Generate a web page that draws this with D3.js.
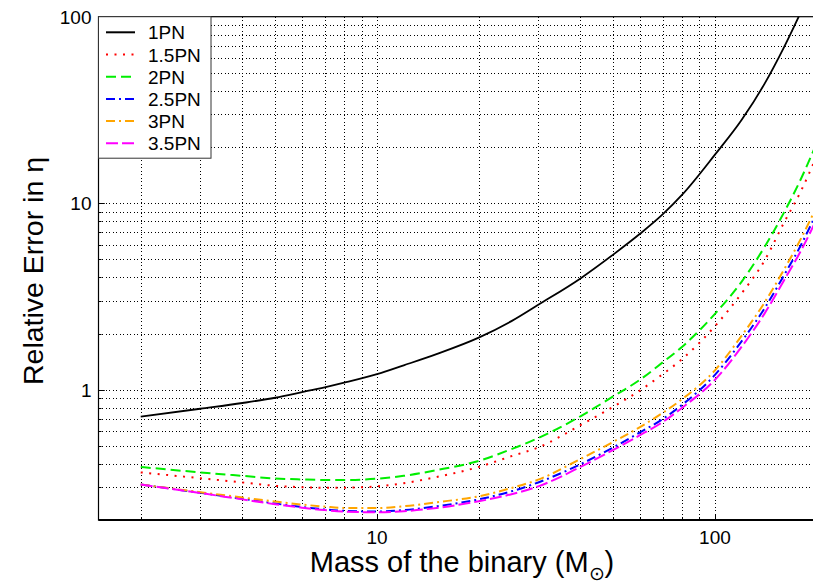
<!DOCTYPE html>
<html>
<head>
<meta charset="utf-8">
<script src="https://cdn.jsdelivr.net/npm/d3@7"></script>
<style>
  html, body { margin: 0; padding: 0; background: #fff; }
  svg { display: block; font-family: "Liberation Sans", Arial, Helvetica, sans-serif; }
</style>
</head>
<body>
<svg id="chart" width="813" height="583"></svg>
<script>
// Data
const masses = [2, 3, 4, 5, 6, 7, 8, 10, 12, 15, 20, 25, 30, 40, 50, 60, 70, 80, 100, 120, 140, 160, 180, 200];
const pn1   = [0.717, 0.79, 0.848, 0.905, 0.97, 1.03, 1.09, 1.21, 1.35, 1.55, 1.9, 2.33, 2.85, 3.95, 5.3, 6.85, 8.7, 11.1, 18.2, 28, 43.5, 68.5, 107, 164];
const pn15  = [0.36, 0.335, 0.318, 0.305, 0.3, 0.298, 0.298, 0.303, 0.315, 0.34, 0.385, 0.44, 0.49, 0.645, 0.81, 0.99, 1.21, 1.46, 2.19, 3.29, 4.9, 7.85, 11.7, 17.9];
const pn2   = [0.385, 0.36, 0.345, 0.334, 0.33, 0.328, 0.328, 0.333, 0.345, 0.37, 0.415, 0.48, 0.55, 0.72, 0.92, 1.13, 1.4, 1.7, 2.55, 3.8, 5.8, 8.9, 13.6, 21];
const pn25  = [0.31, 0.28, 0.26, 0.245, 0.235, 0.228, 0.224, 0.222, 0.226, 0.237, 0.258, 0.285, 0.318, 0.398, 0.49, 0.59, 0.695, 0.83, 1.2, 1.82, 2.72, 4.1, 6.0, 8.9];
const pn3   = [0.31, 0.282, 0.264, 0.251, 0.242, 0.236, 0.232, 0.232, 0.237, 0.249, 0.268, 0.297, 0.329, 0.425, 0.525, 0.63, 0.75, 0.89, 1.27, 1.95, 2.92, 4.4, 6.5, 9.6];
const pn35  = [0.31, 0.279, 0.258, 0.243, 0.233, 0.226, 0.222, 0.22, 0.223, 0.232, 0.252, 0.275, 0.303, 0.385, 0.475, 0.57, 0.67, 0.8, 1.13, 1.7, 2.55, 3.85, 5.6, 8.2];

const seriesNames = ['1PN', '1.5PN', '2PN', '2.5PN', '3PN', '3.5PN'];
const seriesValues = [pn1, pn15, pn2, pn25, pn3, pn35];

// Styles
const colors = ['#000000', '#ff0000', '#00ee00', '#0000ff', '#ffa500', '#ff00ff'];
const dashes = [null, '2,6.5', '10,5', '9,4,2,4', '9,4,2,4', '12,4'];
const yTickValues = [1, 10, 100];
const xTickValues = [10, 100];

// Layout
const plotL = 98.5, plotR = 816.7, plotT = 16.7, plotB = 520;

const x = d3.scaleLog().domain([1.5, 200]).range([plotL, plotR]);
const y = d3.scaleLog().domain([0.2, 100]).range([plotB, plotT]);

const svg = d3.select('#chart');

svg.append('defs').append('clipPath').attr('id', 'plotClip')
  .append('rect')
  .attr('x', plotL).attr('y', plotT)
  .attr('width', plotR - plotL).attr('height', plotB - plotT);

// minor grid values
const xGrid = [];
[1, 10, 100].forEach(d => { for (let k = 1; k < 10; k++) { const v = d * k; if (v > 1.5 && v < 200) xGrid.push(v); } });
const yGrid = [];
[0.1, 1, 10].forEach(d => { for (let k = 1; k < 10; k++) { const v = +(d * k).toFixed(3); if (v > 0.2 && v < 100) yGrid.push(v); } });

const px = v => Math.round(v) + 0.5;

const grid = svg.append('g').attr('shape-rendering', 'crispEdges');
grid.selectAll('line.gx')
  .data(xGrid)
  .enter()
  .append('line')
  .attr('x1', d => px(x(d))).attr('x2', d => px(x(d)))
  .attr('y1', plotT).attr('y2', plotB)
  .attr('stroke', '#000')
  .attr('stroke-width', 1)
  .attr('stroke-dasharray', '1,2.5');
grid.selectAll('line.gy')
  .data(yGrid)
  .enter()
  .append('line')
  .attr('y1', d => px(y(d))).attr('y2', d => px(y(d)))
  .attr('x1', plotL).attr('x2', plotR)
  .attr('stroke', '#000')
  .attr('stroke-width', 1)
  .attr('stroke-dasharray', '1,2.5');

// inner ticks
svg.selectAll('line.ty')
  .data(yGrid.concat(yTickValues))
  .enter()
  .append('line')
  .attr('x1', plotL).attr('x2', d => plotL + (yTickValues.includes(d) ? 6 : 3))
  .attr('y1', d => px(y(d))).attr('y2', d => px(y(d)))
  .attr('stroke', '#000');
svg.selectAll('line.tx')
  .data(xGrid)
  .enter()
  .append('line')
  .attr('y1', plotB).attr('y2', d => plotB - (xTickValues.includes(d) ? 6 : 3))
  .attr('x1', d => px(x(d))).attr('x2', d => px(x(d)))
  .attr('stroke', '#000');

// curves
const line = d3.line()
  .x(d => x(d[0]))
  .y(d => y(d[1]))
  .curve(d3.curveMonotoneX);

const curves = svg.append('g').attr('clip-path', 'url(#plotClip)');
seriesValues.forEach((vals, i) => {
  curves.append('path')
    .datum(masses.map((m, j) => [m, vals[j]]))
    .attr('d', line)
    .attr('fill', 'none')
    .attr('stroke', colors[i])
    .attr('stroke-width', i === 0 ? 1.8 : 2)
    .attr('stroke-dasharray', dashes[i]);
});

// frame
svg.append('rect')
  .attr('x', plotL).attr('y', plotT)
  .attr('width', plotR - plotL).attr('height', plotB - plotT)
  .attr('fill', 'none')
  .attr('stroke', '#000')
  .attr('stroke-width', 1.2);
svg.append('line')
  .attr('x1', plotL).attr('x2', plotR)
  .attr('y1', plotB).attr('y2', plotB)
  .attr('stroke', '#000').attr('stroke-width', 2);

// tick labels
svg.selectAll('text.yl')
  .data(yTickValues)
  .enter()
  .append('text')
  .attr('x', plotL - 7)
  .attr('y', d => y(d) + 7)
  .attr('text-anchor', 'end')
  .attr('font-size', 19)
  .text(d => d);
svg.selectAll('text.xl')
  .data(xTickValues)
  .enter()
  .append('text')
  .attr('x', d => x(d))
  .attr('y', 544)
  .attr('text-anchor', 'middle')
  .attr('font-size', 19)
  .text(d => d);

// axis titles
svg.append('text')
  .attr('transform', 'translate(43, 271) rotate(-90)')
  .attr('text-anchor', 'middle')
  .attr('font-size', 28.5)
  .text('Relative Error in η');

const xt = svg.append('text')
  .attr('x', 462)
  .attr('y', 572)
  .attr('text-anchor', 'middle')
  .attr('font-size', 29);
xt.append('tspan').text('Mass of the binary (M');
xt.append('tspan').attr('font-size', 19).attr('dy', 8).text('⊙');
xt.append('tspan').attr('dy', -8).text(')');

// legend
const legend = svg.append('g');
legend.append('rect')
  .attr('x', plotL).attr('y', plotT)
  .attr('width', 112.5).attr('height', 141.5)
  .attr('fill', '#fff')
  .attr('stroke', '#333')
  .attr('stroke-width', 1);
const rows = legend.selectAll('g.row')
  .data(seriesNames)
  .enter()
  .append('g')
  .attr('transform', (d, i) => `translate(0, ${32.3 + i * 22.2})`);
rows.append('line')
  .attr('x1', 106).attr('x2', 135)
  .attr('y1', 0).attr('y2', 0)
  .attr('stroke', (d, i) => colors[i])
  .attr('stroke-width', 2)
  .attr('stroke-dasharray', (d, i) => dashes[i]);
rows.append('text')
  .attr('x', 148)
  .attr('y', 7)
  .attr('font-size', 19)
  .text(d => d);
</script>
</body>
</html>
